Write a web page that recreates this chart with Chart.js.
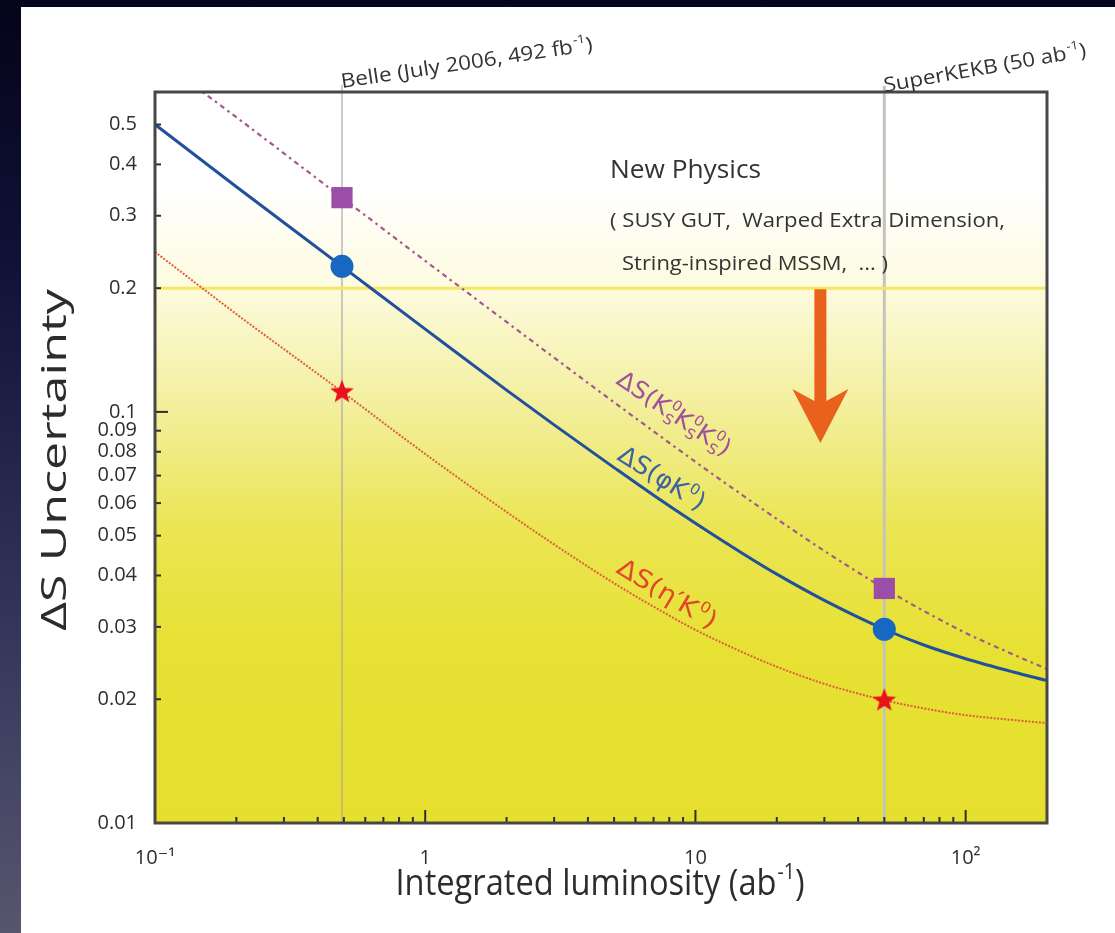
<!DOCTYPE html>
<html><head><meta charset="utf-8">
<script src="https://cdn.jsdelivr.net/npm/chart.js@4.4.1/dist/chart.umd.min.js"></script>
<style>
html,body{margin:0;padding:0;width:1115px;height:933px;overflow:hidden;
 background:linear-gradient(180deg,#04041a 0%,#12123a 30%,#33335a 65%,#56566f 100%);}
#panel{position:absolute;left:21px;top:7px;width:1094px;height:926px;background:#fff;}
canvas{display:block}
</style></head><body>
<div id="panel"><canvas id="c" width="1094" height="926"></canvas></div>
<script>
// ---- data ----
const luminosity   = [0.1, 0.2, 0.492, 1, 2, 3, 5, 7, 10, 15, 20, 30, 50, 70, 100, 150, 200];
const dsPhiK       = [0.50, 0.353, 0.226, 0.159, 0.113, 0.093, 0.0732, 0.0627, 0.0536, 0.0452, 0.0403, 0.0348, 0.0296, 0.0271, 0.0251, 0.0233, 0.0222];
const luminosityK3 = [0.15, 0.2, 0.492, 1, 2, 3, 5, 7, 10, 15, 20, 30, 50, 70, 100, 150, 200];
const dsKsKsKs     = [0.60, 0.521, 0.332, 0.233, 0.1655, 0.1355, 0.1055, 0.0897, 0.0756, 0.0626, 0.0549, 0.0459, 0.0372, 0.0328, 0.029, 0.0257, 0.0237];
const dsEtaPK      = [0.245, 0.173, 0.112, 0.079, 0.0571, 0.0476, 0.0383, 0.0336, 0.0295, 0.026, 0.0240, 0.0218, 0.0199, 0.019, 0.0183, 0.0178, 0.0175];
const milestones   = [0.492, 50];            // Belle (July 2006), SuperKEKB
const markKsKsKs   = [0.332, 0.0372];
const markPhiK     = [0.226, 0.0296];
const markEtaPK    = [0.112, 0.0199];
const npLevel      = 0.2;                     // New-physics reach line
const npArrow      = {x: 29, from: 0.2, to: 0.084};
const xTicks       = [0.1, 1, 10, 100];
const xTickLabels  = ['10⁻¹', '1', '10', '10²'];
const yTicks       = [0.01,0.02,0.03,0.04,0.05,0.06,0.07,0.08,0.09,0.1,0.2,0.3,0.4,0.5];
const yTickLabels  = ['0.01','0.02','0.03','0.04','0.05','0.06','0.07','0.08','0.09','0.1','0.2','0.3','0.4','0.5'];

const pts = (xs, ys) => xs.map((v, i) => ({x: v, y: ys[i]}));

// filled star point style
const starImg = document.createElement('canvas');
starImg.width = 26; starImg.height = 26;
(function(){
  const c = starImg.getContext('2d'); c.fillStyle = '#e8121c'; c.beginPath();
  for (let i = 0; i < 10; i++) {
    const r = i % 2 ? 5.2 : 12.5, a = -Math.PI/2 + i*Math.PI/5;
    const px = 13 + r*Math.cos(a), py = 13.5 + r*Math.sin(a);
    i ? c.lineTo(px, py) : c.moveTo(px, py);
  }
  c.closePath(); c.fill();
})();

const FAM = '"Open Sans", "DejaVu Sans", sans-serif';

function fitText(ctx, text, x, y, size, width, align, color){
  ctx.save();
  ctx.font = size + 'px ' + FAM;
  const w = ctx.measureText(text).width;
  const s = width / w;
  ctx.translate(x, y); ctx.scale(s, 1);
  ctx.fillStyle = color; ctx.textAlign = align || 'left'; ctx.textBaseline = 'alphabetic';
  ctx.fillText(text, 0, 0);
  ctx.restore();
}
function richWidth(ctx, parts, size, fam){
  let w = 0;
  for (const p of parts){
    if (p[1] === 'n'){ ctx.font = size+'px '+fam; w += ctx.measureText(p[0]).width; }
    else if (p[1] === 'sup'){ ctx.font = (size*0.6)+'px '+fam; w += ctx.measureText(p[0]).width + 1; }
    else { ctx.font = (size*0.6)+'px '+fam; w += Math.max(ctx.measureText(p[0]).width, ctx.measureText(p[2]).width) + 1; }
  }
  return w;
}
function drawRich(ctx, x, y, angle, parts, size, color, fam, targetW, align){
  ctx.save();
  ctx.translate(x, y); ctx.rotate(angle*Math.PI/180);
  const w = richWidth(ctx, parts, size, fam);
  let sx = 1;
  if (targetW) { sx = targetW / w; }
  ctx.scale(sx, 1);
  let cx = align === 'center' ? -w/2 : 0;
  ctx.fillStyle = color; ctx.textBaseline = 'alphabetic'; ctx.textAlign = 'left';
  for (const p of parts){
    if (p[1] === 'n'){ ctx.font = size+'px '+fam; ctx.fillText(p[0], cx, 0); cx += ctx.measureText(p[0]).width; }
    else if (p[1] === 'sup'){ ctx.font = (size*0.6)+'px '+fam; ctx.fillText(p[0], cx+1, -size*0.45); cx += ctx.measureText(p[0]).width + 1; }
    else {
      ctx.font = (size*0.6)+'px '+fam;
      ctx.fillText(p[0], cx+1, -size*0.45);
      ctx.fillText(p[2], cx+1, size*0.22);
      cx += Math.max(ctx.measureText(p[0]).width, ctx.measureText(p[2]).width) + 1;
    }
  }
  ctx.restore();
}

const deco = {
  id: 'deco',
  beforeDatasetsDraw(chart){
    const {ctx, chartArea: a, scales: {x, y}} = chart;
    ctx.save();
    const g = ctx.createLinearGradient(0, a.top, 0, a.bottom);
    g.addColorStop(0.00, '#ffffff');
    g.addColorStop(0.13, '#ffffff');
    g.addColorStop(0.265, '#fdfbe0');
    g.addColorStop(0.44, '#f2ee98');
    g.addColorStop(0.60, '#ebe552');
    g.addColorStop(0.76, '#e7e134');
    g.addColorStop(1.00, '#e6df2e');
    ctx.fillStyle = g;
    ctx.fillRect(a.left, a.top, a.right - a.left, a.bottom - a.top);
    const xb = x.getPixelForValue(milestones[0]);
    const xs = x.getPixelForValue(milestones[1]);
    ctx.strokeStyle = '#a9a9a9'; ctx.lineWidth = 1.2;
    ctx.beginPath(); ctx.moveTo(xb, a.top - 7); ctx.lineTo(xb, a.bottom); ctx.stroke();
    ctx.strokeStyle = '#c4c4bc'; ctx.lineWidth = 3;
    ctx.beginPath(); ctx.moveTo(xs, a.top - 6); ctx.lineTo(xs, a.bottom); ctx.stroke();
    ctx.restore();
  },
  afterDatasetsDraw(chart){
    const {ctx, chartArea: a, scales: {x, y}} = chart;
    ctx.save();
    const ax = x.getPixelForValue(npArrow.x);
    const y1 = y.getPixelForValue(npArrow.from) + 1;
    const y2 = y.getPixelForValue(npArrow.to);
    ctx.fillStyle = '#e8621e';
    ctx.beginPath();
    ctx.moveTo(ax - 6, y1); ctx.lineTo(ax - 6, y2 - 42); ctx.lineTo(ax - 28, y2 - 54);
    ctx.lineTo(ax, y2); ctx.lineTo(ax + 28, y2 - 54); ctx.lineTo(ax + 6, y2 - 42);
    ctx.lineTo(ax + 6, y1); ctx.closePath(); ctx.fill();
    ctx.strokeStyle = '#2e2e2e'; ctx.lineWidth = 2;
    for (const v of yTicks){
      if (v === 0.01) continue;
      const py = y.getPixelForValue(v);
      const len = (v === 0.1) ? 13 : 6;
      ctx.beginPath(); ctx.moveTo(a.left, py); ctx.lineTo(a.left + len, py); ctx.stroke();
    }
    for (let d = 0.1; d < 200; d *= 10){
      for (let m = 1; m <= 9; m++){
        const v = d*m; if (v <= 0.1 || v >= 199) continue;
        const px = x.getPixelForValue(v);
        const len = (m === 1) ? 13 : 6;
        ctx.beginPath(); ctx.moveTo(px, a.bottom); ctx.lineTo(px, a.bottom - len); ctx.stroke();
      }
    }
    ctx.strokeStyle = '#474747'; ctx.lineWidth = 3;
    ctx.strokeRect(a.left, a.top, a.right - a.left, a.bottom - a.top);
    ctx.restore();

    const TXT = '#333';
    fitText(ctx, 'New Physics', 589, 171, 25, 151, 'left', TXT);
    fitText(ctx, '( SUSY GUT,  Warped Extra Dimension,', 589, 220, 20, 395, 'left', TXT);
    fitText(ctx, 'String-inspired MSSM,  ... )', 601, 263, 20, 266, 'left', TXT);

    drawRich(ctx, 321, 81, -8.5, [['Belle (July 2006, 492 fb','n'],['-1','sup'],[')','n']], 20, '#333', FAM, 254);
    drawRich(ctx, 864, 85, -10, [['SuperKEKB (50 ab','n'],['-1','sup'],[')','n']], 20, '#333', FAM, 205);

    const HF = '"DejaVu Sans", sans-serif';
    drawRich(ctx, 594, 376, 34, [['ΔS(K','n'],['0','stack','S'],['K','n'],['0','stack','S'],['K','n'],['0','stack','S'],[')','n']], 24, '#a0509c', HF, 132);
    drawRich(ctx, 595, 452, 32, [['ΔS(φK','n'],['0','sup'],[')','n']], 25, '#3d62a2', HF, 98);
    drawRich(ctx, 594, 565, 31, [['ΔS(η','n'],['′','n'],['K','n'],['0','sup'],[')','n']], 25, '#e0462a', HF, 112);

    drawRich(ctx, 579, 888, 0, [['Integrated luminosity (ab','n'],['-1','sup'],[')','n']], 36, '#2c2c2c', FAM, 409, 'center');
    drawRich(ctx, 45, 453, -90, [['ΔS Uncertainty','n']], 34, '#2c2c2c', FAM, 342, 'center');
  }
};

new Chart(document.getElementById('c').getContext('2d'), {
  type: 'line',
  data: {
    datasets: [
      {label: 'ΔS(KsKsKs) milestones', data: pts(milestones, markKsKsKs), showLine: false,
       pointStyle: 'rect', pointRadius: 15, pointBackgroundColor: '#9a4ea8', pointBorderWidth: 0},
      {label: 'ΔS(φK0) milestones', data: pts(milestones, markPhiK), showLine: false,
       pointStyle: 'circle', pointRadius: 11.5, pointBackgroundColor: '#1668c2', pointBorderWidth: 0},
      {label: "ΔS(η'K0) milestones", data: pts(milestones, markEtaPK), showLine: false,
       pointStyle: starImg, pointRadius: 12, pointBorderWidth: 0},
      {label: 'ΔS(KsKsKs)', data: pts(luminosityK3, dsKsKsKs), borderColor: '#a2588f', borderWidth: 2.2,
       borderDash: [2.5, 4, 5, 4], pointRadius: 0, cubicInterpolationMode: 'monotone', fill: false},
      {label: 'ΔS(φK0)', data: pts(luminosity, dsPhiK), borderColor: '#22509c', borderWidth: 3,
       pointRadius: 0, cubicInterpolationMode: 'monotone', fill: false},
      {label: "ΔS(η'K0)", data: pts(luminosity, dsEtaPK), borderColor: '#dc5f3a', borderWidth: 2,
       borderDash: [2, 1.5], pointRadius: 0, cubicInterpolationMode: 'monotone', fill: false},
      {label: 'New physics level', data: pts([0.1, 200], [npLevel, npLevel]), borderColor: '#f8e660',
       borderWidth: 3, pointRadius: 0, fill: false}
    ]
  },
  options: {
    responsive: false, animation: false, events: [],
    layout: {padding: {top: 85, right: 68, left: 0, bottom: 0}},
    plugins: {legend: {display: false}, tooltip: {enabled: false}, title: {display: false}},
    scales: {
      x: {
        type: 'logarithmic', min: 0.1, max: 200,
        grid: {display: false, drawTicks: false}, border: {display: false},
        afterFit(s){ s.height = 110; },
        afterBuildTicks(s){ s.ticks = xTicks.map(v => ({value: v})); },
        ticks: {autoSkip: false, maxRotation: 0, minRotation: 0, padding: 23, color: '#2e2e2e',
          font: {family: FAM, size: 20}, callback: (v, i) => xTickLabels[i]}
      },
      y: {
        type: 'logarithmic', min: 0.01, max: 0.6,
        grid: {display: false, drawTicks: false}, border: {display: false},
        afterFit(s){ s.width = 134; },
        afterBuildTicks(s){ s.ticks = yTicks.map(v => ({value: v})); },
        ticks: {autoSkip: false, padding: 18, color: '#2e2e2e',
          font: {family: FAM, size: 20}, callback: (v, i) => yTickLabels[i]}
      }
    }
  },
  plugins: [deco]
});
</script>
</body></html>
